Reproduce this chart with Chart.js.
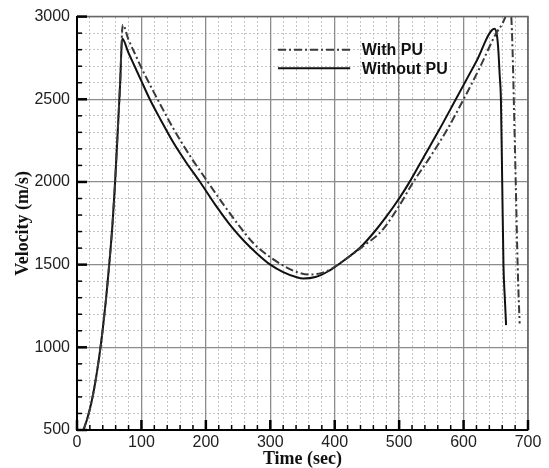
<!DOCTYPE html>
<html>
<head>
<meta charset="utf-8">
<script src="https://cdn.jsdelivr.net/npm/chart.js@4.4.1/dist/chart.umd.min.js"></script>
<style>
  html, body { margin: 0; padding: 0; background: #fff; }
  canvas { display: block; }
</style>
</head>
<body>
<canvas id="velocity-canvas" width="549" height="468"></canvas>
<script>
// Without PU (solid)
const withoutPuTime = [10, 16, 22, 28, 34, 40, 45, 50, 55, 59, 63, 67, 70, 80, 90, 100, 113, 130, 150, 170, 191,
  215, 240, 260, 280, 300, 320, 340, 351, 370, 390, 411, 440, 463, 480, 500, 517, 538, 560, 588, 620,
  648, 652, 654, 656, 658, 660, 662, 664, 666];
const withoutPuVel = [500, 570, 660, 780, 930, 1110, 1290, 1500, 1740, 1990, 2290, 2600, 2867, 2780, 2695, 2610, 2500, 2375, 2235, 2115, 2000,
  1860, 1728, 1640, 1565, 1500, 1455, 1425, 1416, 1425, 1460, 1516, 1605, 1705, 1790, 1900, 2005, 2150, 2300, 2500, 2730,
  2926, 2880, 2795, 2650, 2493, 1991, 1486, 1300, 1134];

// With PU (dash-dot)
const withPuTime = [10, 16, 22, 28, 34, 40, 45, 50, 55, 59, 63, 67, 71, 80, 90, 100, 125, 150, 175, 203, 228,
  253, 275, 300, 320, 340, 360, 380, 395, 411, 440, 473, 500, 522, 548, 575, 600, 625, 650, 660, 665,
  670, 674, 676, 678, 681, 684, 687];
const withPuVel = [500, 570, 660, 780, 930, 1110, 1290, 1500, 1740, 1990, 2290, 2600, 2950, 2860, 2775, 2690, 2500, 2320, 2160, 2000, 1860,
  1728, 1625, 1545, 1495, 1457, 1440, 1450, 1475, 1516, 1600, 1705, 1855, 2000, 2150, 2320, 2500, 2690, 2895, 2956, 3000,
  3070, 3000, 2800, 2493, 1991, 1486, 1144];

const seriesLabels = ["With PU", "Without PU"];

const toPoints = (xs, ys) => xs.map((x, i) => ({ x, y: ys[i] }));

const dashDot = [8, 3, 2, 3];

// inward tick marks + frame
const innerTicks = {
  id: "innerTicks",
  afterDatasetsDraw(chart) {
    const { ctx, chartArea: a, scales } = chart;
    ctx.save();
    ctx.strokeStyle = "#666";
    ctx.lineWidth = 1.5;
    ctx.beginPath();
    ctx.moveTo(a.left, a.top); ctx.lineTo(a.right, a.top); ctx.lineTo(a.right, a.bottom);
    ctx.stroke();
    ctx.strokeStyle = "#000";
    scales.xMinor.ticks.forEach(t => {
      const px = scales.x.getPixelForValue(t.value);
      const major = t.value % 100 === 0;
      ctx.lineWidth = major ? 2.5 : 1.5;
      ctx.beginPath();
      ctx.moveTo(px, a.bottom);
      ctx.lineTo(px, a.bottom - (major ? 10 : 5));
      ctx.stroke();
    });
    scales.yMinor.ticks.forEach(t => {
      const py = scales.y.getPixelForValue(t.value);
      const major = t.value % 500 === 0;
      ctx.lineWidth = major ? 2.5 : 1.5;
      ctx.beginPath();
      ctx.moveTo(a.left, py);
      ctx.lineTo(a.left + (major ? 10 : 5), py);
      ctx.stroke();
    });
    ctx.restore();
  }
};

// legend drawn inside the plot
const innerLegend = {
  id: "innerLegend",
  afterDatasetsDraw(chart) {
    const { ctx, scales } = chart;
    const x0 = scales.x.getPixelForValue(312);
    const x1 = scales.x.getPixelForValue(424);
    const tx = scales.x.getPixelForValue(442);
    const rows = [scales.y.getPixelForValue(2800), scales.y.getPixelForValue(2688)];
    ctx.save();
    ctx.font = "bold 16px 'Liberation Sans', Arial, sans-serif";
    ctx.textBaseline = "middle";
    ctx.fillStyle = "#111";
    chart.data.datasets.forEach((ds, i) => {
      const y = rows[i];
      ctx.strokeStyle = ds.borderColor;
      ctx.lineWidth = ds.borderWidth;
      ctx.setLineDash(ds.borderDash || []);
      ctx.beginPath();
      ctx.moveTo(x0, y);
      ctx.lineTo(x1, y);
      ctx.stroke();
      ctx.fillText(ds.label, tx, y + 1);
    });
    ctx.restore();
  }
};

const plainTick = v => String(v);

new Chart(document.getElementById("velocity-canvas"), {
  type: "line",
  data: {
    datasets: [
      {
        label: seriesLabels[0],
        data: toPoints(withPuTime, withPuVel),
        borderColor: "#3a3a3a",
        borderWidth: 2,
        borderDash: dashDot,
        pointRadius: 0,
        cubicInterpolationMode: "monotone",
        fill: false
      },
      {
        label: seriesLabels[1],
        data: toPoints(withoutPuTime, withoutPuVel),
        borderColor: "#111",
        borderWidth: 2,
        pointRadius: 0,
        cubicInterpolationMode: "monotone",
        fill: false
      }
    ]
  },
  options: {
    responsive: false,
    animation: false,
    layout: { padding: { left: 0, right: 21, top: 16, bottom: 0 } },
    plugins: {
      legend: { display: false },
      tooltip: { enabled: false }
    },
    scales: {
      xMinor: {
        type: "linear",
        position: "top",
        min: 0,
        max: 700,
        z: -1,
        ticks: { stepSize: 20, display: false },
        grid: { color: "#c4c4c4", lineWidth: 1, drawTicks: false },
        border: { display: false, dash: [2, 2] },
        afterFit(s) { s.height = 0; }
      },
      yMinor: {
        type: "linear",
        position: "right",
        min: 500,
        max: 3000,
        z: -1,
        ticks: { stepSize: 100, display: false },
        grid: { color: "#c4c4c4", lineWidth: 1, drawTicks: false },
        border: { display: false, dash: [2, 2] },
        afterFit(s) { s.width = 0; }
      },
      x: {
        type: "linear",
        position: "bottom",
        min: 0,
        max: 700,
        ticks: {
          stepSize: 100,
          padding: 3,
          maxRotation: 0,
          color: "#222",
          callback: plainTick,
          font: { family: "'Liberation Sans', Arial, sans-serif", size: 16 }
        },
        grid: { color: "#8c8c8c", lineWidth: 1.3, drawTicks: false },
        border: { color: "#000", width: 2 },
        title: {
          display: true,
          text: "Time (sec)",
          color: "#111",
          padding: 0,
          font: { family: "'Liberation Serif', 'Times New Roman', serif", size: 18, weight: "bold", lineHeight: 1 }
        },
        afterFit(s) { s.height = 38; }
      },
      y: {
        type: "linear",
        position: "left",
        min: 500,
        max: 3000,
        ticks: {
          stepSize: 500,
          padding: 7,
          color: "#222",
          callback: plainTick,
          font: { family: "'Liberation Sans', Arial, sans-serif", size: 16 }
        },
        grid: { color: "#8c8c8c", lineWidth: 1.3, drawTicks: false },
        border: { color: "#000", width: 2 },
        title: {
          display: true,
          text: "Velocity (m/s)",
          color: "#111",
          padding: { top: 14, bottom: 0 },
          font: { family: "'Liberation Serif', 'Times New Roman', serif", size: 18, weight: "bold", lineHeight: 1 }
        },
        afterFit(s) { s.width = 77; }
      }
    }
  },
  plugins: [innerTicks, innerLegend]
});
</script>
</body>
</html>
